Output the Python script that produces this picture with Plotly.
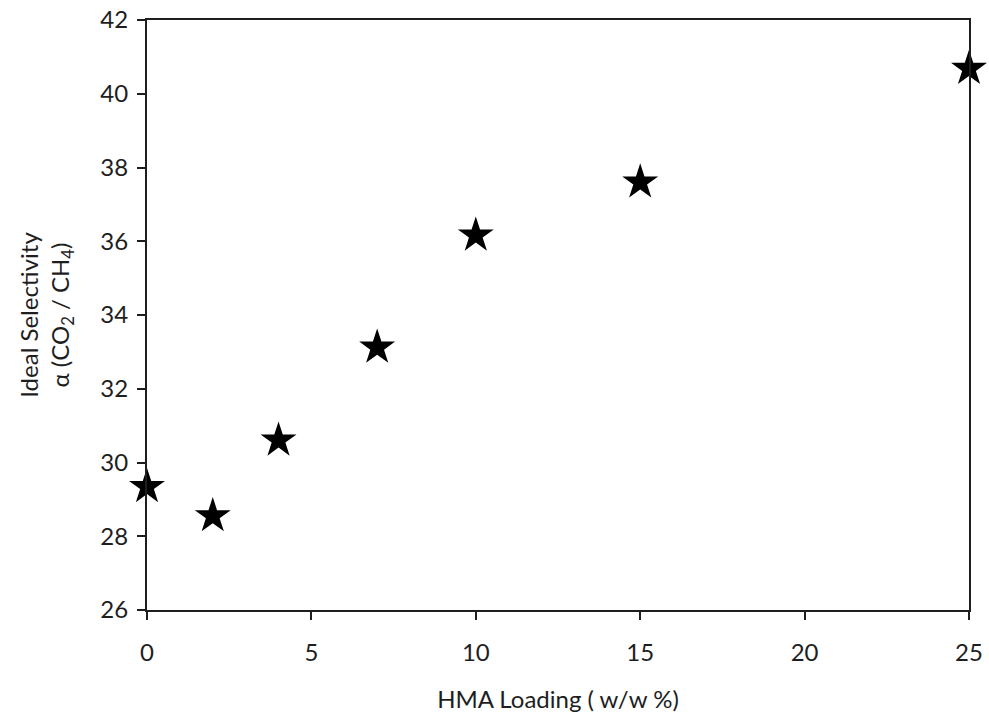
import plotly.graph_objects as go

# HMA loading (w/w %) and ideal CO2/CH4 selectivity
hma_loading = [0, 2, 4, 7, 10, 15, 25]
selectivity = [29.34, 28.55, 30.6, 33.12, 36.16, 37.6, 40.68]

x_ticks = [0, 5, 10, 15, 20, 25]
y_ticks = [26, 28, 30, 32, 34, 36, 38, 40, 42]

font_family = "Lato, 'Open Sans', sans-serif"
ink = "#1e1e1e"

fig = go.Figure()
fig.add_trace(go.Scatter(
    x=hma_loading,
    y=selectivity,
    mode="markers",
    marker=dict(symbol="star", size=27, color="black", line=dict(width=0)),
    cliponaxis=False,
    showlegend=False,
))

axis_common = dict(
    showline=True,
    linecolor=ink,
    linewidth=2,
    mirror=True,
    showgrid=False,
    zeroline=False,
    ticks="outside",
    ticklen=8,
    tickwidth=2,
    tickcolor=ink,
    tickfont=dict(family=font_family, size=24, color=ink),
    automargin=False,
)

fig.update_xaxes(
    range=[0, 25],
    tickvals=x_ticks,
    ticklabelstandoff=12,
    title=dict(text="HMA Loading ( w/w %)", font=dict(family=font_family, size=24, color=ink), standoff=26),
    **axis_common,
)
fig.update_yaxes(
    range=[26, 42],
    tickvals=y_ticks,
    ticklabelstandoff=4,
    title=dict(text="Ideal Selectivity<br>α (CO<sub>2</sub> / CH<sub>4</sub>)",
               font=dict(family=font_family, size=24, color=ink), standoff=24),
    **axis_common,
)

fig.update_layout(
    width=989,
    height=717,
    margin=dict(l=147, r=20, t=20, b=107),
    paper_bgcolor="white",
    plot_bgcolor="white",
)

fig.write_html("out.html")
